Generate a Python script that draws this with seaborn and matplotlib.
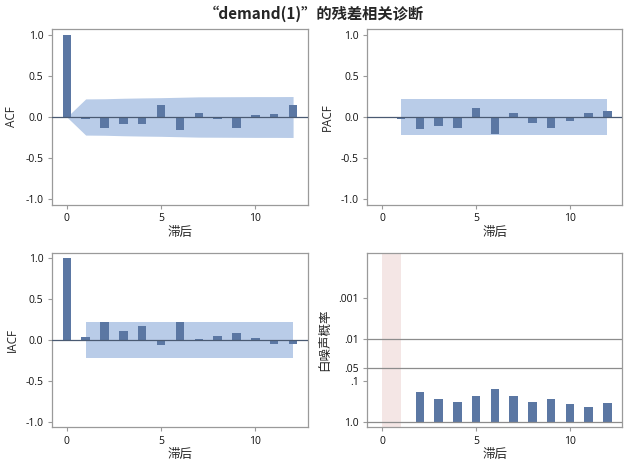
import matplotlib
matplotlib.use("Agg")
import matplotlib.pyplot as plt
import seaborn as sns
import numpy as np

# values
lags = list(range(0, 13))
acf = [1.0, -0.02, -0.13, -0.09, -0.09, 0.15, -0.16, 0.05, -0.02, -0.13, 0.03, 0.04, 0.15]
acf_band = [0.0, 0.22, 0.222, 0.228, 0.232, 0.235, 0.24, 0.245, 0.246, 0.247, 0.248, 0.248, 0.249]
pacf_lags = list(range(1, 13))
pacf = [-0.02, -0.14, -0.11, -0.13, 0.11, -0.21, 0.05, -0.07, -0.13, -0.05, 0.05, 0.07]
iacf = [1.0, 0.04, 0.22, 0.11, 0.17, -0.06, 0.22, 0.01, 0.05, 0.09, 0.03, -0.05, -0.05]
band = 0.22
wn_lags = list(range(2, 13))
wn_p = [0.184, 0.27, 0.32, 0.23, 0.155, 0.23, 0.32, 0.27, 0.356, 0.42, 0.34]
wn_ticks = [0.001, 0.01, 0.05, 0.1, 1.0]
wn_ticklabels = [".001", ".01", ".05", ".1", "1.0"]

bar_c = "#5b77a3"
band_c = "#b9cce8"
pink_c = "#f4e6e5"
frame_c = "#9a9a9a"

sns.set_style("white")
plt.rcParams['font.family'] = ['Open Sans', 'Noto Sans CJK SC', 'DejaVu Sans']
plt.rcParams['axes.unicode_minus'] = False

fig = plt.figure(figsize=(6.27, 4.68), dpi=100)
pos = {
    "acf": [0.0825, 0.562, 0.409, 0.376],
    "pacf": [0.5858, 0.562, 0.407, 0.376],
    "iacf": [0.0825, 0.087, 0.409, 0.373],
    "wn": [0.5858, 0.087, 0.407, 0.373],
}
axes = {k: fig.add_axes(v) for k, v in pos.items()}


def style(ax):
    for s in ax.spines.values():
        s.set_color(frame_c)
        s.set_linewidth(0.9)
    ax.tick_params(axis="both", which="both", length=3, width=0.8, color=frame_c,
                   labelsize=7.5, labelcolor="#111111", pad=3, bottom=True, left=True)
    ax.set_xlim(-0.8, 12.8)
    ax.set_xticks([0, 5, 10])
    ax.set_xticklabels(["0", "5", "10"])
    ax.set_xlabel("滞后", fontsize=9, labelpad=1)


def corr_panel(ax, x, y, name, band_x, band_lo, band_hi):
    ax.fill_between(band_x, band_lo, band_hi, color=band_c, linewidth=0, zorder=1)
    sns.barplot(x=x, y=y, native_scale=True, width=0.45, color=bar_c, saturation=1,
                linewidth=0, ax=ax, zorder=2)
    ax.axhline(0, color="#4a5a72", lw=0.9, zorder=3)
    ax.set_ylim(-1.07, 1.07)
    ax.set_yticks([1.0, 0.5, 0.0, -0.5, -1.0])
    ax.set_yticklabels(["1.0", "0.5", "0.0", "-0.5", "-1.0"])
    ax.set_ylabel(name, fontsize=8.5, labelpad=5)
    style(ax)


ab = np.array(acf_band)
corr_panel(axes["acf"], lags, acf, "ACF", lags, -ab, ab)
corr_panel(axes["pacf"], pacf_lags, pacf, "PACF", [1, 12], [-band, -band], [band, band])
corr_panel(axes["iacf"], lags, iacf, "IACF", [1, 12], [-band, -band], [band, band])

# white noise panel: -log10(p) on a linear axis, small p at top
ax = axes["wn"]
ax.axvspan(0, 1, color=pink_c, lw=0, zorder=0)
sns.barplot(x=wn_lags, y=-np.log10(wn_p), native_scale=True, width=0.45,
            color=bar_c, saturation=1, linewidth=0, ax=ax, zorder=2)
for p in [0.01, 0.05, 1.0]:
    ax.axhline(-np.log10(p), color="#8c8c8c", lw=0.9, zorder=3)
ax.set_ylim(-0.12, 4.09)
ax.set_yticks([-np.log10(t) for t in wn_ticks])
ax.set_yticklabels(wn_ticklabels)
ax.set_ylabel("白噪声概率", fontsize=9, labelpad=5)
style(ax)

fig.suptitle("“demand(1)”的残差相关诊断", fontsize=11, fontweight="bold", y=0.988,
             family=['Noto Sans CJK SC', 'DejaVu Sans'])

fig.savefig("out.png", dpi=100)
